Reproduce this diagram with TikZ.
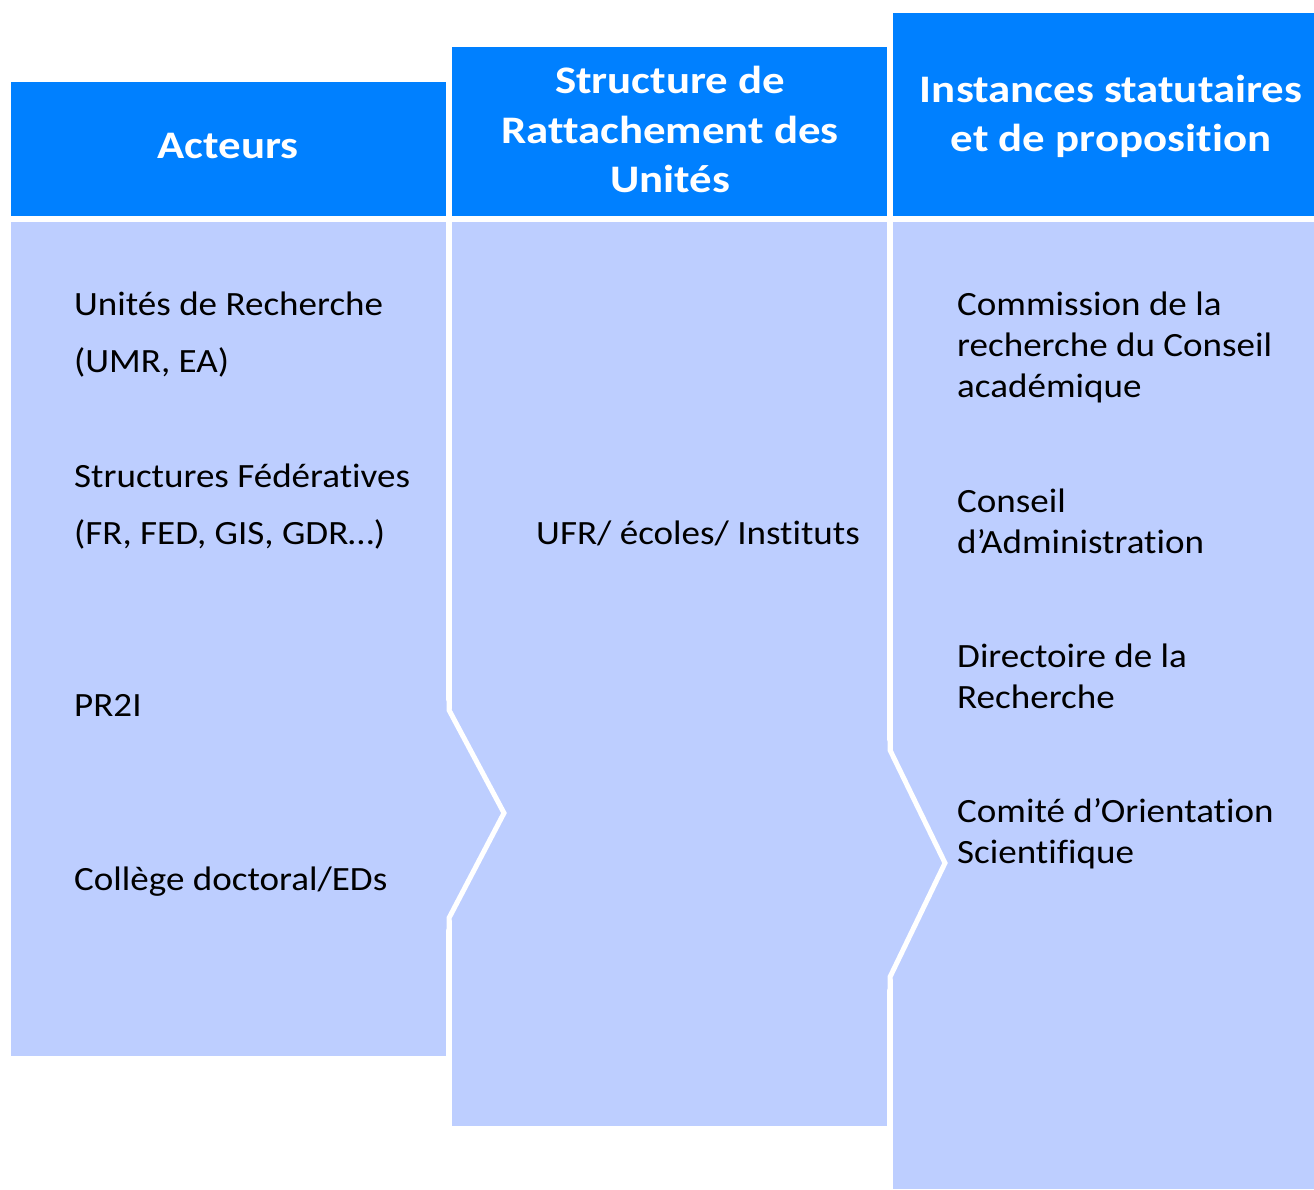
\documentclass[tikz,border=0pt]{standalone}
\usepackage{fontspec}
\setmainfont{Carlito}[Ligatures=NoCommon,FakeStretch=1.09]
\newfontfamily\headfont{Carlito}[Ligatures=NoCommon,FakeStretch=1.15]
\definecolor{headblue}{RGB}{0,128,255}
\definecolor{bodyblue}{RGB}{189,206,255}
\begin{document}
\begin{tikzpicture}[x=1pt,y=-1pt,
  head/.style={fill=headblue,draw=none},
  body/.style={fill=bodyblue,draw=none},
  sep/.style={draw=white,line width=5pt,line join=miter},
  htext/.style={text=white,font=\headfont\fontsize{39}{46}\selectfont\bfseries,inner sep=0pt,anchor=base},
  btext/.style={text=black,font=\fontsize{34}{40}\selectfont,inner sep=0pt,anchor=base west}]
\useasboundingbox[fill=white] (0,0) rectangle (1314,1189);
% headers
\path[head] (11,82) rectangle (446,216);
\path[head] (452,47) rectangle (887,216);
\path[head] (893,13) rectangle (1314,216);
% bodies
\path[body] (11,222) rectangle (446,1056);
\path[body] (452,222) rectangle (887,1126);
\path[body] (893,222) rectangle (1314,1189);
\path[body] (446,700) -- (510,813) -- (446,930) -- cycle;
\path[body] (887,740) -- (950,863) -- (887,990) -- cycle;
% chevron separators
\coordinate (a1) at (449,222);
\coordinate (a2) at (449,710);
\coordinate (a3) at (504,813);
\coordinate (a4) at (449,918);
\coordinate (a5) at (449,1056);
\draw[sep] (a1) -- (a2) -- (a3) -- (a4) -- (a5);
\coordinate (b1) at (890,222);
\coordinate (b2) at (890,750);
\coordinate (b3) at (945,863);
\coordinate (b4) at (890,977);
\coordinate (b5) at (890,1126);
\draw[sep] (b1) -- (b2) -- (b3) -- (b4) -- (b5);
% header texts
\node[htext] (h1) at (228,158) {Acteurs};
\node[htext] (h2a) at (670,93) {Structure de};
\node[htext] (h2b) at (670,143) {Rattachement des};
\node[htext] (h2c) at (670,192) {Unités};
\node[htext] (h3a) at (1111,102) {Instances statutaires};
\node[htext] (h3b) at (1111,151) {et de proposition};
% left column texts
\node[btext] (l1) at (74,315) {Unités de Recherche};
\node[btext] (l2) at (74,372) {(UMR, EA)};
\node[btext] (l3) at (74,487) {Structures Fédératives};
\node[btext] (l4) at (74,544) {(FR, FED, GIS, GDR…)};
\node[btext] (l5) at (74,716) {PR2I};
\node[btext] (l6) at (74,890) {Collège doctoral/EDs};
% middle
\node[btext] (m1) at (536,544) {UFR/ écoles/ Instituts};
% right column
\node[btext] (r1) at (957,315) {Commission de la};
\node[btext] (r2) at (957,356) {recherche du Conseil};
\node[btext] (r3) at (957,397) {académique};
\node[btext] (r4) at (957,512) {Conseil};
\node[btext] (r5) at (957,553) {d’Administration};
\node[btext] (r6) at (957,667) {Directoire de la};
\node[btext] (r7) at (957,708) {Recherche};
\node[btext] (r8) at (957,822) {Comité d’Orientation};
\node[btext] (r9) at (957,863) {Scientifique};
\end{tikzpicture}
\end{document}
